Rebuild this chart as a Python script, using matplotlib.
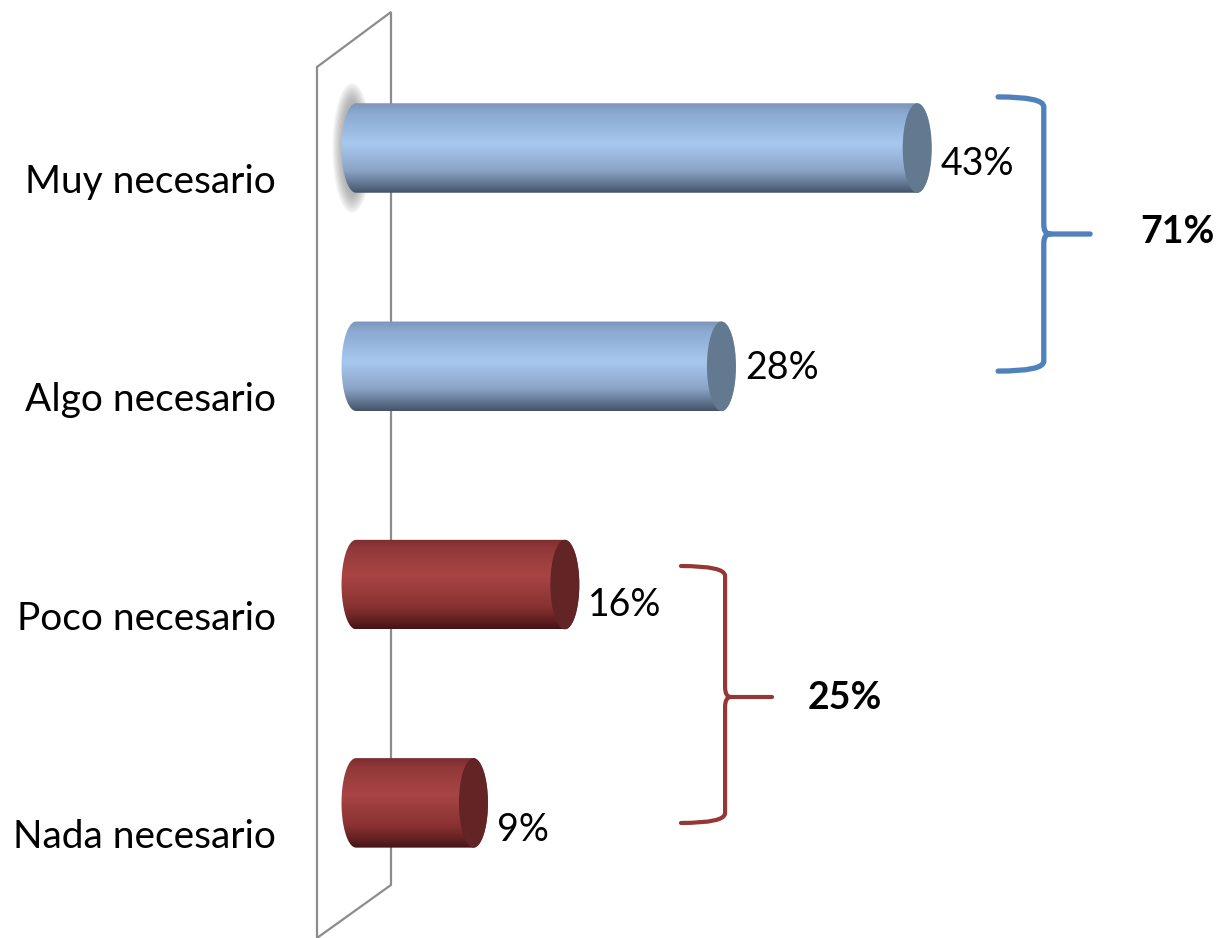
import numpy as np
import matplotlib
matplotlib.use('Agg')
import matplotlib.pyplot as plt
from matplotlib.path import Path
from matplotlib.patches import PathPatch, Ellipse, Polygon
from matplotlib.colors import LinearSegmentedColormap

plt.rcParams['font.family'] = ['Lato', 'DejaVu Sans']

# data
categories = ['Muy necesario', 'Algo necesario', 'Poco necesario', 'Nada necesario']
values = [43, 28, 16, 9]
groups = [0, 0, 1, 1]                 # 0 = necesario, 1 = no necesario
group_totals = ['71%', '25%']

# look
body_stops = [
    [(0.0, '#7d95b8'), (0.1, '#8aa8d0'), (0.45, '#a8c8f0'), (0.75, '#8ba4c7'), (0.92, '#5c6f89'), (1.0, '#44536a')],
    [(0.0, '#7b2e2e'), (0.1, '#923838'), (0.4, '#a84545'), (0.75, '#8a3232'), (0.92, '#5e1f1f'), (1.0, '#441414')],
]
cap_colors = ['#62798f', '#622424']
brace_colors = ['#4f81bd', '#953735']
label_dy = [0.124, 0.060, 0.142, 0.174]   # excel placed the value labels a bit unevenly

bar_h = 0.41
rx = 1.11        # half width of the end ellipse, in % units

fig = plt.figure(figsize=(12.18, 9.38), dpi=100)
ax = fig.add_axes([0, 0, 1, 1])
ax.axis('off')

# back wall of the 3d chart
wall = Polygon([(-2.99, -0.371), (2.68, -0.623), (2.68, 3.376), (-2.99, 3.619)],
               closed=True, fill=False, edgecolor='#8c8c8c', lw=1.6, zorder=1)
ax.add_patch(wall)

# the little blurry shadow by the first bar
for k in range(8):
    ax.add_patch(Ellipse((-0.3, 0), 1.6 + 0.2 * k, 0.44 + 0.022 * k,
                         fc='#7a7a7a', ec='none', alpha=0.09, zorder=2))

for i, v in enumerate(values):
    g = groups[i]
    cmap = LinearSegmentedColormap.from_list('b%d' % g, body_stops[g])
    t = np.linspace(0, 1, 200)
    left = [(rx * np.cos(a), i + bar_h / 2 * np.sin(a)) for a in np.linspace(np.pi / 2, 3 * np.pi / 2, 40)]
    right = [(v + rx * np.cos(a), i + bar_h / 2 * np.sin(a)) for a in np.linspace(-np.pi / 2, np.pi / 2, 40)]
    verts = left + right + [left[0]]
    codes = [Path.MOVETO] + [Path.LINETO] * (len(verts) - 2) + [Path.CLOSEPOLY]
    clip = PathPatch(Path(verts, codes), transform=ax.transData, fc='none', ec='none')
    ax.add_patch(clip)
    im = ax.imshow(t[:, None], cmap=cmap, extent=(-rx - 0.1, v + rx + 0.1, i + bar_h / 2, i - bar_h / 2),
                   aspect='auto', origin='upper', interpolation='bicubic', zorder=3)
    im.set_clip_path(clip)
    ax.add_patch(Ellipse((v, i), 2 * rx, bar_h, fc=cap_colors[g], ec='none', zorder=4))
    ax.text(v + 1.8, i + label_dy[i], '%d%%' % v, fontsize=27, va='baseline', ha='left', color='black')
    ax.text(-6.13, i + 0.206, categories[i], fontsize=28, va='baseline', ha='right', color='black')


def brace(xa, xv, xt, yt, ym, yb, color, lw):
    r = 0.045
    dx = 0.45
    verts = [(xa, yt), (xv, yt), (xv, yt + r),
             (xv, ym - r),
             (xv, ym), (xv + dx, ym),
             (xt, ym),
             (xv + dx, ym), (xv, ym), (xv, ym + r),
             (xv, yb - r),
             (xv, yb), (xa, yb)]
    codes = [Path.MOVETO, Path.CURVE3, Path.CURVE3,
             Path.LINETO,
             Path.CURVE3, Path.CURVE3,
             Path.LINETO,
             Path.MOVETO, Path.CURVE3, Path.CURVE3,
             Path.LINETO,
             Path.CURVE3, Path.CURVE3]
    ax.add_patch(PathPatch(Path(verts, codes), fc='none', ec=color, lw=lw,
                           capstyle='round', joinstyle='round', zorder=5))


brace(49.2, 52.7, 56.25, -0.234, 0.394, 1.022, brace_colors[0], 3.8)
ax.text(60.08, 0.435, group_totals[0], fontsize=27, fontweight='bold', va='baseline', ha='left')
brace(24.9, 28.28, 31.88, 1.915, 2.515, 3.092, brace_colors[1], 3.0)
ax.text(34.64, 2.570, group_totals[1], fontsize=27, fontweight='bold', va='baseline', ha='left')

ax.set_xlim(-27.28, 66.05)
ax.set_ylim(3.619, -0.678)

fig.savefig('out.png', dpi=100)
